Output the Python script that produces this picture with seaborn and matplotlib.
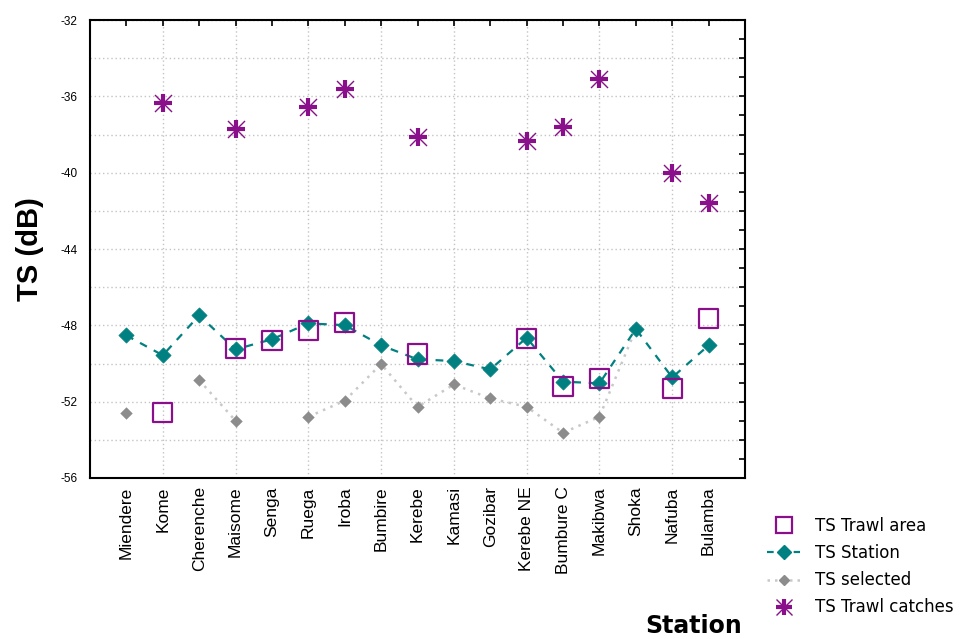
import numpy as np
import pandas as pd
import matplotlib
matplotlib.use("Agg")
import matplotlib.pyplot as plt
import seaborn as sns
from matplotlib.lines import Line2D
from matplotlib.legend_handler import HandlerTuple

stations = ["Miendere", "Kome", "Cherenche", "Maisome", "Senga", "Ruega", "Iroba",
            "Bumbire", "Kerebe", "Kamasi", "Gozibar", "Kerebe NE", "Bumbure C",
            "Makibwa", "Shoka", "Nafuba", "Bulamba"]
nan = np.nan
ts_trawl_area = [nan, -52.57, nan, -49.21, -48.81, -48.28, -47.85, nan, -49.50,
                 nan, nan, -48.69, -51.22, -50.78, nan, -51.30, -47.64]
ts_station = [-48.53, -49.57, -47.48, -49.26, -48.73, -47.90, -47.99, -49.05, -49.78,
              -49.87, -50.31, -48.65, -50.95, -51.04, -48.19, -50.73, -49.05]
ts_selected = [-52.58, nan, -50.87, -53.00, nan, -52.79, -51.95, -50.03, -52.27,
               -51.10, -51.83, -52.27, -53.63, -52.79, -48.19, nan, nan]
ts_trawl_catches = [nan, -36.35, nan, -37.71, nan, -36.56, -35.62, nan, -38.13,
                    nan, nan, -38.34, -37.61, -35.09, nan, -40.02, -41.59]

pos = np.arange(len(stations))
df = pd.DataFrame({"pos": pos, "station": stations, "area": ts_trawl_area,
                   "stationTS": ts_station, "sel": ts_selected, "catch": ts_trawl_catches})
# segment ids for gaps in the "selected" series
df["selseg"] = np.cumsum(pd.isna(df["sel"]).astype(int))

sns.set_style("white")
plt.rcParams["font.family"] = ["DejaVu Sans"]
for k in ["text.color", "axes.labelcolor", "xtick.color", "ytick.color"]:
    plt.rcParams[k] = "black"

fig = plt.figure(figsize=(9.76, 6.39), dpi=100)
ax = fig.add_axes([90/976, 1-478/639, (745-90)/976, (478-20)/639])

purple = "#8a0f8a"
teal = "#008080"
grey = "#8c8c8c"

# grid
for yv in np.arange(-54, -31, 2):
    ax.axhline(yv, color="#c4c4c4", lw=1.0, ls=(0, (1, 2)), zorder=0)
for xv in range(1, 17, 2):
    ax.axvline(xv, color="#c4c4c4", lw=1.0, ls=(0, (1, 2)), zorder=0)

# TS selected (grey dotted, gaps)
dsel = df.dropna(subset=["sel"])
sns.lineplot(data=dsel, x="pos", y="sel", units="selseg", estimator=None, ax=ax,
             color="#c8c8c8", lw=1.8, ls=(0, (1, 2.2)), legend=False, zorder=2)
sns.scatterplot(data=dsel, x="pos", y="sel", ax=ax, marker="D", s=40,
                color=grey, edgecolor=grey, linewidth=0, legend=False, zorder=3)

# TS Station (teal dashed)
sns.lineplot(data=df, x="pos", y="stationTS", estimator=None, ax=ax, color=teal,
             lw=1.6, ls=(0, (3.5, 3.5)), legend=False, zorder=4)
sns.scatterplot(data=df, x="pos", y="stationTS", ax=ax, marker="D", s=60,
                color=teal, edgecolor=teal, linewidth=0.5, legend=False, zorder=5)

# TS Trawl area (open squares)
darea = df.dropna(subset=["area"])
sns.scatterplot(data=darea, x="pos", y="area", ax=ax, marker="s", s=190,
                facecolor="none", edgecolor=purple, linewidth=1.6, legend=False, zorder=6)

# TS Trawl catches (asterisk)
dc = df.dropna(subset=["catch"])
sns.scatterplot(data=dc, x="pos", y="catch", ax=ax, marker="+", s=150,
                color=purple, linewidth=3, legend=False, zorder=7)
sns.scatterplot(data=dc, x="pos", y="catch", ax=ax, marker="x", s=150,
                color=purple, linewidth=1.0, legend=False, zorder=7)

ax.set_xlim(-1, 17)
ax.set_ylim(-56, -32)
ax.set_xticks(pos)
ax.set_xticklabels(stations, rotation=90, fontsize=12.5, family="Liberation Sans")
ax.set_yticks(np.arange(-56, -31, 4))
ax.set_yticklabels([str(v) for v in range(-56, -31, 4)], fontsize=8.5, family="Liberation Sans")
ax.set_yticks(np.arange(-56, -31, 1), minor=True)
ax.tick_params(axis="both", which="both", direction="in", top=True, right=True,
               length=4, width=1.2, color="black")
ax.tick_params(axis="x", pad=6)
ax.tick_params(axis="y", pad=9)
ax.set_xlabel("")
ax.set_ylabel("TS (dB)", fontsize=21, fontweight="bold", family="Liberation Sans", labelpad=12)
for sp in ax.spines.values():
    sp.set_color("black")
    sp.set_linewidth(1.5)

fig.text(742/976, 1-626/639, "Station", ha="right", va="center", fontsize=17,
         fontweight="bold")

h_area = Line2D([], [], marker="s", ms=12, mfc="none", mec=purple, mew=1.6, ls="none")
h_stat = Line2D([], [], marker="D", ms=7, color=teal, ls=(0, (3, 3)), lw=1.6)
h_sel = Line2D([], [], marker="D", ms=5.5, color=grey, mec=grey, ls="none")
h_sel_line = Line2D([], [], color="#c8c8c8", ls=(0, (1, 2)), lw=1.8)
h_c1 = Line2D([], [], marker="+", ms=12, color=purple, mew=3, ls="none")
h_c2 = Line2D([], [], marker="x", ms=12, color=purple, mew=1, ls="none")
fig.legend([h_area, h_stat, (h_sel_line, h_sel), (h_c1, h_c2)],
           ["TS Trawl area", "TS Station", "TS selected", "TS Trawl catches"],
           handler_map={tuple: HandlerTuple(ndivide=1, pad=0)},
           loc="upper left", bbox_to_anchor=(767/976, 1-517/639), frameon=False,
           fontsize=12, handlelength=2.0, labelspacing=0.55, handletextpad=0.9,
           borderaxespad=0, borderpad=0)

fig.savefig("out.png", dpi=100)
